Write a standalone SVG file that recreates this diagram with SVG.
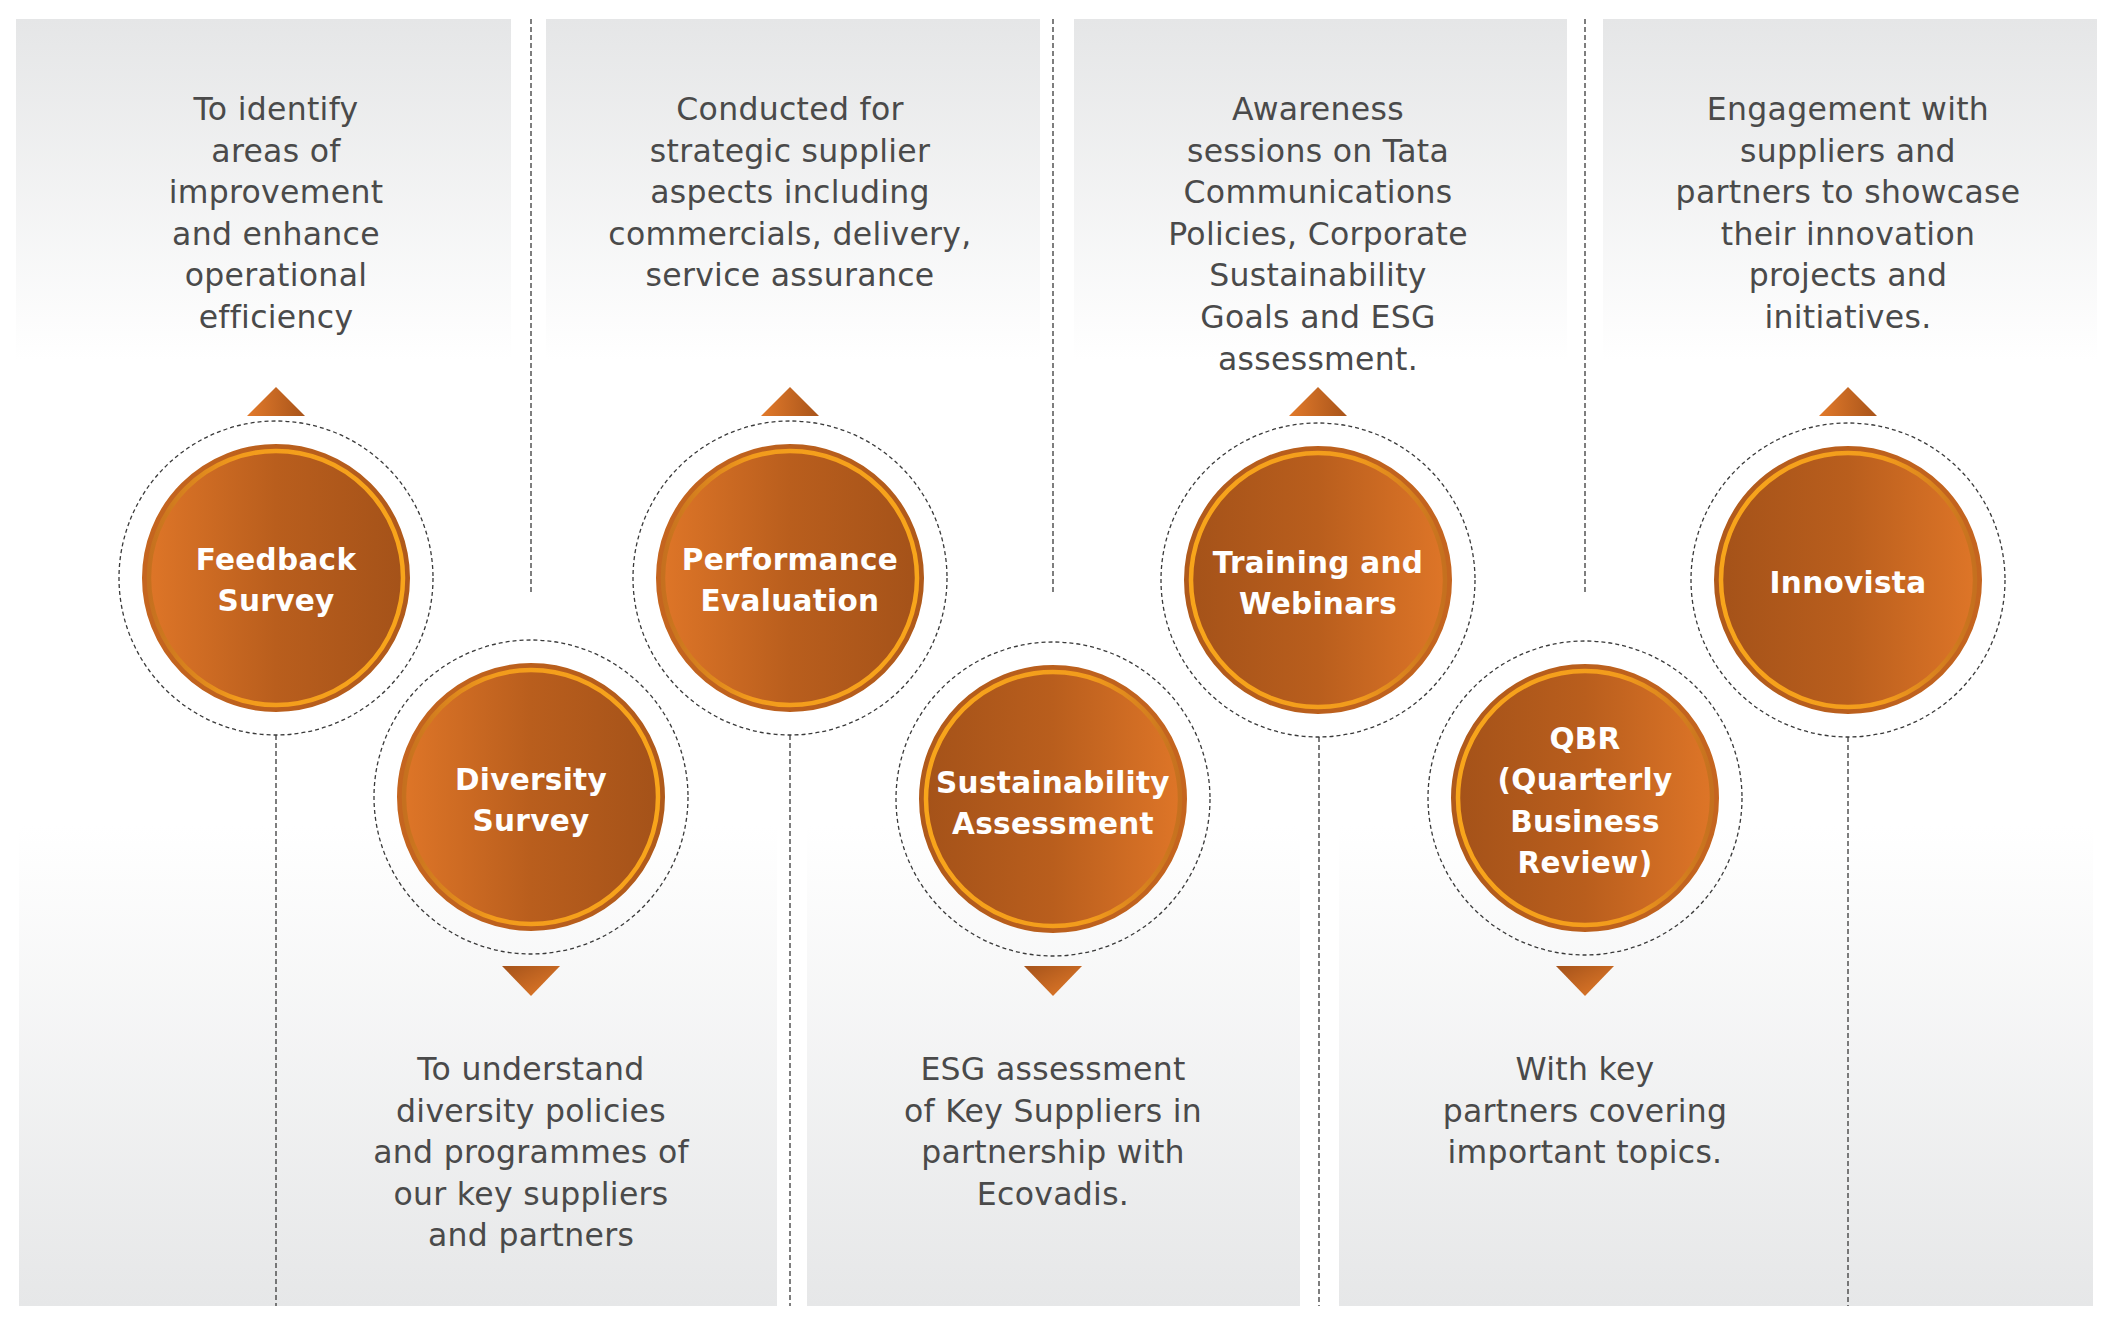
<svg xmlns="http://www.w3.org/2000/svg" width="2124" height="1324" viewBox="0 0 2124 1324">
<style>
.desc{font-family:"DejaVu Sans","Liberation Sans",sans-serif;font-size:31.5px;letter-spacing:0.3px;fill:#4a4a4a;text-anchor:middle}
.lbl{font-family:"DejaVu Sans","Liberation Sans",sans-serif;font-size:29.5px;letter-spacing:0.3px;font-weight:bold;fill:#ffffff;text-anchor:middle}
.halo{fill:none;stroke:#3a3a3a;stroke-width:1.3;stroke-dasharray:4 3}
.vline{fill:none;stroke:#3a3a3a;stroke-width:1.3;stroke-dasharray:5 3}
.rimA{fill:url(#fillA);stroke:url(#rimA);stroke-width:6}
.rimB{fill:url(#fillB);stroke:url(#rimB);stroke-width:6}
.ringA{fill:none;stroke:url(#ringA);stroke-width:4.5}
.ringB{fill:none;stroke:url(#ringB);stroke-width:4.5}
.triU{fill:url(#triU)}
.triD{fill:url(#triD)}
</style>
<defs>
<linearGradient id="topG" x1="0" y1="0" x2="0" y2="1">
<stop offset="0" stop-color="#e5e6e7"/>
<stop offset="0.9" stop-color="#ffffff"/>
<stop offset="1" stop-color="#ffffff"/>
</linearGradient>
<linearGradient id="botG" x1="0" y1="0" x2="0" y2="1">
<stop offset="0" stop-color="#ffffff"/>
<stop offset="0.3" stop-color="#ffffff"/>
<stop offset="1" stop-color="#e6e7e8"/>
</linearGradient>
<linearGradient id="fillA" x1="0" y1="0" x2="1" y2="0">
<stop offset="0" stop-color="#df7628"/>
<stop offset="0.5" stop-color="#b95e1d"/>
<stop offset="1" stop-color="#a45219"/>
</linearGradient>
<linearGradient id="fillB" x1="0" y1="0" x2="1" y2="0">
<stop offset="0" stop-color="#a45219"/>
<stop offset="0.5" stop-color="#b95e1d"/>
<stop offset="1" stop-color="#df7628"/>
</linearGradient>
<linearGradient id="rimA" x1="0" y1="0" x2="1" y2="0">
<stop offset="0" stop-color="#c5651f"/>
<stop offset="1" stop-color="#b05a1b"/>
</linearGradient>
<linearGradient id="rimB" x1="0" y1="0" x2="1" y2="0">
<stop offset="0" stop-color="#b05a1b"/>
<stop offset="1" stop-color="#c5651f"/>
</linearGradient>
<linearGradient id="ringA" x1="0" y1="0" x2="1" y2="0">
<stop offset="0" stop-color="#c5701f"/>
<stop offset="0.35" stop-color="#f29b1c"/>
<stop offset="1" stop-color="#f8a51b"/>
</linearGradient>
<linearGradient id="ringB" x1="0" y1="0" x2="1" y2="0">
<stop offset="0" stop-color="#f8a51b"/>
<stop offset="0.65" stop-color="#f29b1c"/>
<stop offset="1" stop-color="#c5701f"/>
</linearGradient>
<linearGradient id="triU" x1="0" y1="0" x2="1" y2="0">
<stop offset="0" stop-color="#e27a2b"/>
<stop offset="1" stop-color="#a8541a"/>
</linearGradient>
<linearGradient id="triD" x1="0" y1="0" x2="1" y2="1">
<stop offset="0" stop-color="#a4521a"/>
<stop offset="1" stop-color="#e57c2a"/>
</linearGradient>
</defs>

<rect width="2124" height="1324" fill="#ffffff"/>

<g id="panels">
<rect x="16" y="19" width="495" height="380" fill="url(#topG)"/>
<rect x="546" y="19" width="494" height="380" fill="url(#topG)"/>
<rect x="1074" y="19" width="493" height="380" fill="url(#topG)"/>
<rect x="1603" y="19" width="494" height="380" fill="url(#topG)"/>
<rect x="19" y="620" width="758" height="686" fill="url(#botG)"/>
<rect x="807" y="620" width="493" height="686" fill="url(#botG)"/>
<rect x="1339" y="620" width="754" height="686" fill="url(#botG)"/>
</g>

<g id="connectors">
<line class="vline" x1="531" y1="19" x2="531" y2="595"/>
<line class="vline" x1="1053" y1="19" x2="1053" y2="593"/>
<line class="vline" x1="1585" y1="19" x2="1585" y2="595"/>
<line class="vline" x1="276" y1="735" x2="276" y2="1306"/>
<line class="vline" x1="790" y1="735" x2="790" y2="1306"/>
<line class="vline" x1="1319" y1="737" x2="1319" y2="1306"/>
<line class="vline" x1="1848" y1="737" x2="1848" y2="1306"/>
</g>

<g id="feedback-survey">
<text class="desc"><tspan x="276" y="120">To identify</tspan><tspan x="276" y="161.6">areas of</tspan><tspan x="276" y="203.2">improvement</tspan><tspan x="276" y="244.8">and enhance</tspan><tspan x="276" y="286.4">operational</tspan><tspan x="276" y="328">efficiency</tspan></text>
<polygon class="triU" points="276,387 305,416 247,416"/>
<circle class="halo" cx="276" cy="578" r="157"/>
<circle class="rimA" cx="276" cy="578" r="131"/>
<circle class="ringA" cx="276" cy="578" r="127"/>
<text class="lbl"><tspan x="276" y="570">Feedback</tspan><tspan x="276" y="611">Survey</tspan></text>
</g>

<g id="diversity-survey">
<circle class="halo" cx="531" cy="797" r="157"/>
<circle class="rimA" cx="531" cy="797" r="131"/>
<circle class="ringA" cx="531" cy="797" r="127"/>
<text class="lbl"><tspan x="531" y="790">Diversity</tspan><tspan x="531" y="831">Survey</tspan></text>
<polygon class="triD" points="502,966 560,966 531,996"/>
<text class="desc"><tspan x="531" y="1080">To understand</tspan><tspan x="531" y="1121.6">diversity policies</tspan><tspan x="531" y="1163.2">and programmes of</tspan><tspan x="531" y="1204.8">our key suppliers</tspan><tspan x="531" y="1246.4">and partners</tspan></text>
</g>

<g id="performance-evaluation">
<text class="desc"><tspan x="790" y="120">Conducted for</tspan><tspan x="790" y="161.6">strategic supplier</tspan><tspan x="790" y="203.2">aspects including</tspan><tspan x="790" y="244.8">commercials, delivery,</tspan><tspan x="790" y="286.4">service assurance</tspan></text>
<polygon class="triU" points="790,387 819,416 761,416"/>
<circle class="halo" cx="790" cy="578" r="157"/>
<circle class="rimA" cx="790" cy="578" r="131"/>
<circle class="ringA" cx="790" cy="578" r="127"/>
<text class="lbl"><tspan x="790" y="570">Performance</tspan><tspan x="790" y="611">Evaluation</tspan></text>
</g>

<g id="sustainability-assessment">
<circle class="halo" cx="1053" cy="799" r="157"/>
<circle class="rimB" cx="1053" cy="799" r="131"/>
<circle class="ringB" cx="1053" cy="799" r="127"/>
<text class="lbl"><tspan x="1053" y="793">Sustainability</tspan><tspan x="1053" y="834">Assessment</tspan></text>
<polygon class="triD" points="1024,966 1082,966 1053,996"/>
<text class="desc"><tspan x="1053" y="1080">ESG assessment</tspan><tspan x="1053" y="1121.6">of Key Suppliers in</tspan><tspan x="1053" y="1163.2">partnership with</tspan><tspan x="1053" y="1204.8">Ecovadis.</tspan></text>
</g>

<g id="training-webinars">
<text class="desc"><tspan x="1318" y="120">Awareness</tspan><tspan x="1318" y="161.6">sessions on Tata</tspan><tspan x="1318" y="203.2">Communications</tspan><tspan x="1318" y="244.8">Policies, Corporate</tspan><tspan x="1318" y="286.4">Sustainability</tspan><tspan x="1318" y="328">Goals and ESG</tspan><tspan x="1318" y="369.6">assessment.</tspan></text>
<polygon class="triU" points="1318,387 1347,416 1289,416"/>
<circle class="halo" cx="1318" cy="580" r="157"/>
<circle class="rimB" cx="1318" cy="580" r="131"/>
<circle class="ringB" cx="1318" cy="580" r="127"/>
<text class="lbl"><tspan x="1318" y="573">Training and</tspan><tspan x="1318" y="614">Webinars</tspan></text>
</g>

<g id="qbr">
<circle class="halo" cx="1585" cy="798" r="157"/>
<circle class="rimB" cx="1585" cy="798" r="131"/>
<circle class="ringB" cx="1585" cy="798" r="127"/>
<text class="lbl"><tspan x="1585" y="749">QBR</tspan><tspan x="1585" y="790">(Quarterly</tspan><tspan x="1585" y="832">Business</tspan><tspan x="1585" y="873">Review)</tspan></text>
<polygon class="triD" points="1556,966 1614,966 1585,996"/>
<text class="desc"><tspan x="1585" y="1080">With key</tspan><tspan x="1585" y="1121.6">partners covering</tspan><tspan x="1585" y="1163.2">important topics.</tspan></text>
</g>

<g id="innovista">
<text class="desc"><tspan x="1848" y="120">Engagement with</tspan><tspan x="1848" y="161.6">suppliers and</tspan><tspan x="1848" y="203.2">partners to showcase</tspan><tspan x="1848" y="244.8">their innovation</tspan><tspan x="1848" y="286.4">projects and</tspan><tspan x="1848" y="328">initiatives.</tspan></text>
<polygon class="triU" points="1848,387 1877,416 1819,416"/>
<circle class="halo" cx="1848" cy="580" r="157"/>
<circle class="rimB" cx="1848" cy="580" r="131"/>
<circle class="ringB" cx="1848" cy="580" r="127"/>
<text class="lbl"><tspan x="1848" y="593">Innovista</tspan></text>
</g>
</svg>
